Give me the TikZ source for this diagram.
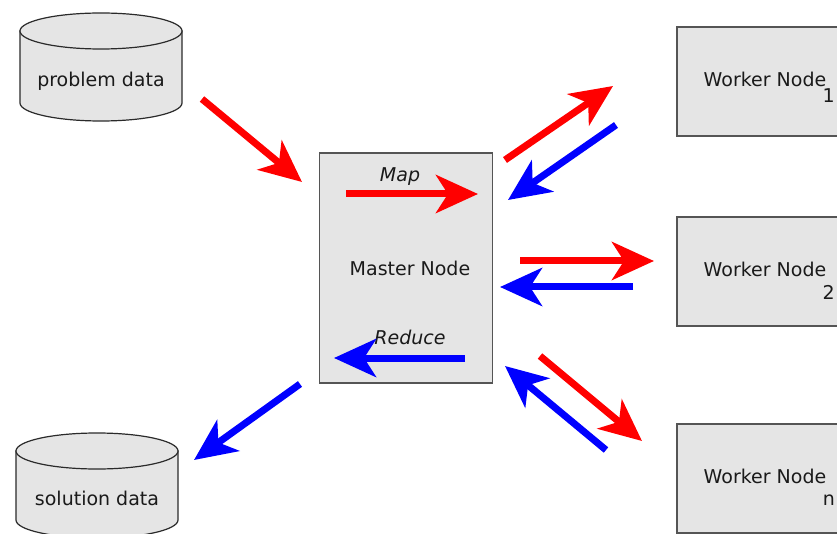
\documentclass[tikz,border=0pt]{standalone}
\usepackage{fontspec}
\setmainfont{DejaVu Sans}
\usetikzlibrary{arrows.meta}
\definecolor{boxfill}{HTML}{E5E5E5}
\definecolor{boxline}{HTML}{555555}
\definecolor{cylline}{HTML}{2A2A2A}
\definecolor{txt}{HTML}{1A1A1A}
\tikzset{
  bigarrow/.style={line width=7pt, -{Stealth[length=42pt,width=38pt,inset=12pt]}},
  redarrow/.style={bigarrow, draw=red},
  bluearrow/.style={bigarrow, draw=blue},
  lbl/.style={font=\fontsize{19}{23}\selectfont, text=txt, inner sep=0pt, anchor=base},
  boxnode/.style={draw=boxline, fill=boxfill, line width=1.8pt, rectangle, inner sep=0pt},
  cyl/.style={draw=cylline, fill=boxfill, line width=1.2pt},
}
\begin{document}
\begin{tikzpicture}[x=1pt,y=-1pt]
\useasboundingbox (0,0) rectangle (837,534);
% cylinders
\path[cyl] (20,31) -- (20,103) arc[start angle=180, end angle=0, x radius=81, y radius=18] -- (182,31) -- cycle;
\path[cyl] (101,31) ellipse[x radius=81, y radius=18];
\node[lbl] (pd) at (101,87) {problem data};
\path[cyl] (16,451) -- (16,520) arc[start angle=180, end angle=0, x radius=81, y radius=18] -- (178,451) -- cycle;
\path[cyl] (97,451) ellipse[x radius=81, y radius=18];
\node[lbl] (sd) at (97,505) {solution data};
% master
\node[boxnode, minimum width=173pt, minimum height=230pt] (master) at (406,268) {};
\node[lbl] (mastertxt) at (410,276) {Master Node};
\node[lbl, font=\fontsize{19}{23}\selectfont\itshape] (maptxt) at (400,182) {Map};
\node[lbl, font=\fontsize{19}{23}\selectfont\itshape] (redtxt) at (410,344) {Reduce};
% workers
\node[boxnode, minimum width=180pt, minimum height=109pt, anchor=north west] (w1) at (676,26) {};
\node[boxnode, minimum width=180pt, minimum height=109pt, anchor=north west] (w2) at (676,216) {};
\node[boxnode, minimum width=180pt, minimum height=109pt, anchor=north west] (wn) at (676,423) {};
\node[lbl] (w1t) at (765,87) {Worker Node};
\node[lbl, anchor=base east] (w1s) at (835,103) {1};
\node[lbl] (w2t) at (765,277) {Worker Node};
\node[lbl, anchor=base east] (w2s) at (835,299) {2};
\node[lbl] (wnt) at (765,483) {Worker Node};
\node[lbl, anchor=base east] (wns) at (835,505) {n};
% arrow end points
\coordinate (a1) at (202,99);  \coordinate (b1) at (302,182);
\coordinate (a2) at (505,160); \coordinate (b2) at (613,86);
\coordinate (a3) at (616,125); \coordinate (b3) at (508,200);
\coordinate (a4) at (520,261); \coordinate (b4) at (654,261);
\coordinate (a5) at (633,287); \coordinate (b5) at (500,287);
\coordinate (a6) at (540,356); \coordinate (b6) at (642,441);
\coordinate (a7) at (606,450); \coordinate (b7) at (505,366);
\coordinate (a8) at (300,384); \coordinate (b8) at (194,460);
\coordinate (a9) at (346,194); \coordinate (b9) at (478,194);
\coordinate (a10) at (465,358); \coordinate (b10) at (334,358);
\draw[redarrow] (a1) -- (b1);
\draw[redarrow] (a2) -- (b2);
\draw[bluearrow] (a3) -- (b3);
\draw[redarrow] (a4) -- (b4);
\draw[bluearrow] (a5) -- (b5);
\draw[redarrow] (a6) -- (b6);
\draw[bluearrow] (a7) -- (b7);
\draw[bluearrow] (a8) -- (b8);
\draw[redarrow] (a9) -- (b9);
\draw[bluearrow] (a10) -- (b10);
\end{tikzpicture}
\end{document}
